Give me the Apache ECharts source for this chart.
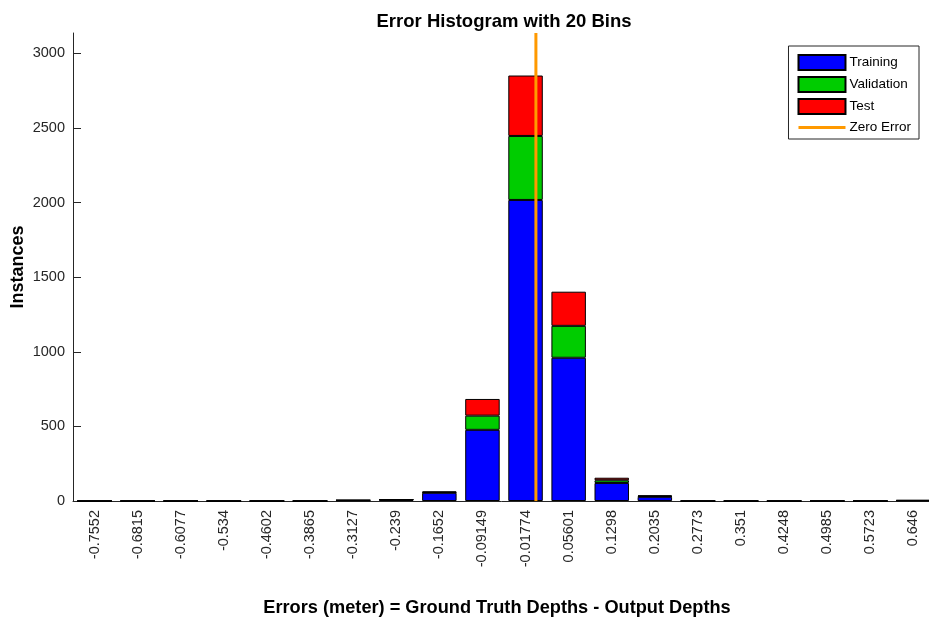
<!DOCTYPE html>
<html><head><meta charset="utf-8">
<script src="https://cdn.jsdelivr.net/npm/echarts@6/dist/echarts.min.js"></script>
<style>html,body{margin:0;padding:0;background:#fff}#c{width:929px;height:618px}</style>
</head><body><div id="c"></div>
<script>
const categories = ['-0.7552','-0.6815','-0.6077','-0.534','-0.4602','-0.3865','-0.3127','-0.239','-0.1652','-0.09149','-0.01774','0.05601','0.1298','0.2035','0.2773','0.351','0.4248','0.4985','0.5723','0.646'];
const training   = [0,0,0,0,0,0,4,8,55,477,2018,960,121,28,0,0,0,0,0,3];
const validation = [0,0,0,0,0,0,1,1,3,95,429,214,18,4,0,0,0,0,0,1];
const test       = [0,0,0,0,0,0,1,2,6,112,405,229,17,6,0,0,0,0,0,1];
const binCenters = [-0.7552, 0.646];
const zeroLine = [[0,0],[0,3137]];
const yMax = 3137;

const binW = (binCenters[1]-binCenters[0])/(categories.length-1);
const font = '"Liberation Sans", Arial, Helvetica, sans-serif';
const chart = echarts.init(document.getElementById('c'), null, {renderer:'canvas'});
const barStyle = c => ({color:c, borderColor:'#000', borderWidth:1});
const lineIcon = 'path://M0,0L0.01,0L0,0.01Z M0,6L47,6L47,9L0,9Z M47,15L46.99,15L47,14.99Z';
chart.setOption({
  animation:false,
  title:{text:'Error Histogram with 20 Bins', left:499, top:7, textAlign:'center',
    textStyle:{fontFamily:font, fontSize:18.5, fontWeight:'bold', color:'#000'}},
  legend:{orient:'vertical', right:10, top:46, itemWidth:47, itemHeight:15, itemGap:5,
    padding:[8,8,4,9], borderColor:'#262626', borderWidth:1, backgroundColor:'#fff',
    textStyle:{fontFamily:font, fontSize:13.5, color:'#000', padding:[0,0,0,-1]},
    data:[{name:'Training', icon:'rect'},{name:'Validation', icon:'rect'},{name:'Test', icon:'rect'},
          {name:'Zero Error', icon:lineIcon}]},
  grid:{left:73, right:-6, top:33, bottom:117, containLabel:false, outerBoundsMode:'none'},
  xAxis:[{type:'category', data:categories, boundaryGap:true,
    name:'Errors (meter) = Ground Truth Depths - Output Depths', nameLocation:'middle', nameGap:98,
    nameTextStyle:{fontFamily:font, fontSize:18.2, fontWeight:'bold', color:'#000', padding:[0,14,0,0]},
    axisLine:{lineStyle:{color:'#262626', width:1}},
    axisTick:{inside:true, alignWithLabel:true, interval:0, length:8, lineStyle:{color:'#262626'}},
    axisLabel:{rotate:90, interval:0, fontFamily:font, fontSize:14.5, color:'#262626', margin:9},
    splitLine:{show:false}},
   {type:'value', show:false, min:binCenters[0]-binW/2, max:binCenters[1]+binW/2}],
  yAxis:{type:'value', min:0, max:yMax, interval:500,
    name:'Instances', nameLocation:'middle', nameGap:46, nameRotate:90, nameMoveOverlap:false,
    nameTextStyle:{fontFamily:font, fontSize:18, fontWeight:'bold', color:'#000'},
    axisLine:{show:true, onZero:false, lineStyle:{color:'#262626', width:1}},
    axisTick:{show:true, inside:true, length:8, lineStyle:{color:'#262626'}},
    axisLabel:{fontFamily:font, fontSize:14.5, color:'#262626', margin:8, showMaxLabel:false,
      formatter: v => String(v)},
    splitLine:{show:false}},
  series:[
    {name:'Training', type:'bar', stack:'t', data:training, barWidth:'80%', itemStyle:barStyle('#0000FF')},
    {name:'Validation', type:'bar', stack:'t', data:validation, barWidth:'80%', itemStyle:barStyle('#00CC00')},
    {name:'Test', type:'bar', stack:'t', data:test, barWidth:'80%', itemStyle:barStyle('#FF0000')},
    {name:'Zero Error', type:'line', xAxisIndex:1, data:zeroLine, symbol:'none', z:10,
      lineStyle:{color:'#FF9900', width:3}, itemStyle:{color:'#FF9900'}}
  ]
});
</script></body></html>
